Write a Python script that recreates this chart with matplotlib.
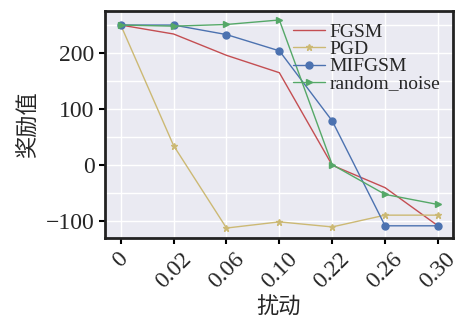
import matplotlib
matplotlib.use("Agg")
import matplotlib.pyplot as plt
import seaborn as sns

# ------ data ------ #
eps_labels = ["0", "0.02", "0.06", "0.10", "0.22", "0.26", "0.30"]
fgsm = [250, 234, 196, 165, 0, -40, -108]
pgd = [250, 35, -112, -101, -110, -89, -89]
mifgsm = [250, 250, 233, 204, 79, -108, -108]
random_noise = [250, 248, 251, 259, 1, -52, -70]

sns.set_theme(style="darkgrid")
plt.rcParams['font.family'] = ['Liberation Serif', 'Noto Sans CJK SC']
plt.rcParams['mathtext.fontset'] = 'stix'

fig = plt.figure(figsize=(4.62, 3.24), dpi=100)
ax = fig.add_axes([0.227, 0.265, 0.753, 0.701])

x = range(len(eps_labels))
ax.plot(x, fgsm, '-', color='#C44E52', lw=1.0, label='FGSM')
ax.plot(x, pgd, '-', marker='*', ms=5, color='#CCB974', lw=1.0, label='PGD')
ax.plot(x, mifgsm, '-', marker='o', ms=5, color='#4C72B0', lw=1.0, label='MIFGSM')
ax.plot(x, random_noise, '-', marker='>', ms=5, color='#55A868', lw=1.0, label='random_noise')

ax.set_xlim(-0.3, 6.28)
ax.set_ylim(-130, 275)
ax.set_xticks(list(x))
ax.set_xticklabels(eps_labels, rotation=45, fontsize=17)
ax.set_yticks([-100, 0, 100, 200])
ax.set_yticks([-50, 50, 150, 250], minor=True)
ax.tick_params(axis='y', labelsize=17)
ax.grid(True, which='both', color='white', lw=1.0)
ax.tick_params(which='major', direction='out', length=4, width=1.5, color='black',
               bottom=True, left=True)
ax.tick_params(which='minor', length=0)
for s in ax.spines.values():
    s.set_color('#222222')
    s.set_linewidth(2)

ax.set_xlabel('扰动', fontsize=16)
ax.set_ylabel('奖励值', fontsize=16)
ax.legend(loc='upper right', frameon=False, fontsize=14, handlelength=1.6,
          borderaxespad=0.25, labelspacing=-0.03, handletextpad=0.25)

fig.savefig('out.png', dpi=100)
